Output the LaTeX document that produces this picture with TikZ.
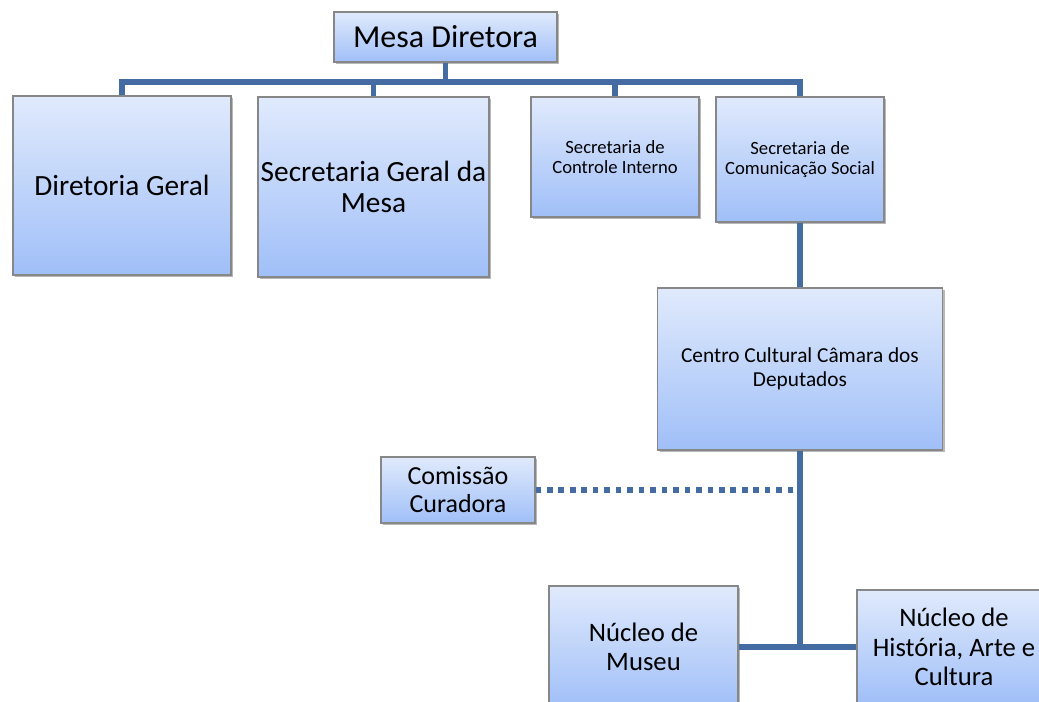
\documentclass[tikz,border=0pt]{standalone}
\usepackage{fontspec}
\setmainfont{Carlito}
\usetikzlibrary{shadows}
\definecolor{linecol}{RGB}{68,108,163}
\definecolor{topc}{RGB}{224,234,252}
\definecolor{botc}{RGB}{160,191,248}
\definecolor{edgec}{RGB}{135,135,135}
\tikzset{
  box/.style={draw=edgec, line width=0.8pt, top color=topc, bottom color=botc,
    inner sep=0pt, align=center, text=black,
    drop shadow={shadow xshift=1.6pt, shadow yshift=-1.8pt, fill=black, opacity=0.28}},
  conn/.style={draw=linecol, line width=3.8pt, line join=miter},
  dotconn/.style={draw=linecol, line width=3.8pt, dash pattern=on 4.2pt off 4.4pt},
  big/.style={font=\fontsize{22pt}{23.5pt}\selectfont},
  small/.style={font=\fontsize{14pt}{15.5pt}\selectfont},
  ctr/.style={font=\fontsize{16pt}{18pt}\selectfont},
  mid/.style={font=\fontsize{19.5pt}{21pt}\selectfont},
  nuc/.style={font=\fontsize{20pt}{22pt}\selectfont},
}
\begin{document}
\begin{tikzpicture}[x=0.75pt,y=-0.75pt]
\useasboundingbox (0,0) rectangle (1039,702);
\clip (0,0) rectangle (1039,702);
\fill[white] (0,0) rectangle (1039,702);
% nodes
\node[box, font=\fontsize{24pt}{24pt}\selectfont, minimum width=223*0.75pt, minimum height=50*0.75pt] (mesa) at (445.5,37) {Mesa Diretora};
\node[box, big, minimum width=218*0.75pt, minimum height=179*0.75pt] (dg) at (122,185.5) {Diretoria Geral};
\node[box, big, minimum width=231*0.75pt, minimum height=180*0.75pt] (sgm) at (373.5,187) {Secretaria Geral da\\Mesa};
\node[box, small, minimum width=168*0.75pt, minimum height=120*0.75pt] (sci) at (615,157) {Secretaria de\\Controle Interno};
\node[box, small, minimum width=168*0.75pt, minimum height=125*0.75pt] (scs) at (800,159.5) {Secretaria de\\Comunicação Social};
\node[box, ctr, minimum width=285*0.75pt, minimum height=162*0.75pt] (ccd) at (800,369) {Centro Cultural Câmara dos\\Deputados};
\node[box, mid, minimum width=154*0.75pt, minimum height=66*0.75pt] (com) at (458,490) {Comissão\\Curadora};
\node[box, nuc, minimum width=189*0.75pt, minimum height=122*0.75pt] (mus) at (643.5,647) {Núcleo de\\Museu};
\node[box, nuc, minimum width=194*0.75pt, minimum height=114*0.75pt] (hist) at (954,647) {Núcleo de\\História, Arte e\\Cultura};
\coordinate (bus) at (0,82);
% connectors
\draw[conn] (dg.north) |- (scs.north |- bus) -- (scs.north);
\draw[conn] (mesa.south) -- (mesa.south |- bus);
\draw[conn] (sgm.north) -- (sgm.north |- bus);
\draw[conn] (sci.north) -- (sci.north |- bus);
\draw[conn] (scs.south) -- (ccd.north);
\draw[conn] (ccd.south) -- (ccd.south |- mus.east);
\draw[conn] (mus.east) -- (hist.west);
\draw[dotconn] (com.east) -- (com.east -| ccd.south);
\end{tikzpicture}
\end{document}
